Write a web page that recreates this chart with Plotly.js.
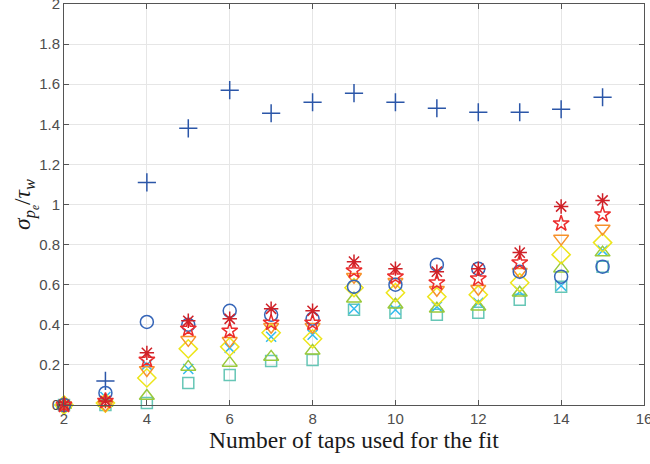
<!DOCTYPE html>
<html>
<head>
<meta charset="utf-8">
<script src="https://cdn.plot.ly/plotly-3.0.1.min.js"></script>
<style>
  html, body { margin: 0; padding: 0; background: #fff; }
  #chart { width: 650px; height: 464px; }
</style>
</head>
<body>
<div id="chart"></div>
<script>
// Number of taps used for the fit
const taps = [2, 3, 4, 5, 6, 7, 8, 9, 10, 11, 12, 13, 14, 15];

// Normalised standard deviation for each fitting case
const plusVals     = [0.00, 0.12, 1.11, 1.38, 1.57, 1.455, 1.51, 1.555, 1.51, 1.48, 1.46, 1.46, 1.475, 1.535];
const circleVals   = [0.00, 0.06, 0.414, 0.40, 0.47, 0.45, 0.43, 0.59, 0.60, 0.70, 0.68, 0.665, 0.64, 0.69];
const crossVals    = [0.00, 0.04, 0.20, 0.18, 0.285, 0.34, 0.35, 0.48, 0.475, 0.49, 0.51, 0.565, 0.595, 0.77];
const squareVals   = [0.00, 0.00, 0.01, 0.11, 0.15, 0.22, 0.225, 0.475, 0.46, 0.45, 0.46, 0.525, 0.59, 0.69];
const triUpVals    = [0.00, 0.01, 0.045, 0.19, 0.21, 0.24, 0.27, 0.53, 0.50, 0.48, 0.49, 0.56, 0.68, 0.76];
const diamondVals  = [0.00, 0.01, 0.135, 0.28, 0.29, 0.36, 0.33, 0.585, 0.56, 0.54, 0.55, 0.61, 0.75, 0.81];
const triDownVals  = [0.00, 0.00, 0.175, 0.325, 0.32, 0.39, 0.39, 0.64, 0.615, 0.575, 0.58, 0.665, 0.83, 0.88];
const starVals     = [0.00, 0.02, 0.225, 0.38, 0.37, 0.41, 0.41, 0.67, 0.64, 0.61, 0.63, 0.71, 0.905, 0.95];
const asteriskVals = [0.00, 0.02, 0.26, 0.42, 0.43, 0.48, 0.47, 0.715, 0.68, 0.665, 0.68, 0.76, 0.99, 1.02];

const xTickVals = [2, 4, 6, 8, 10, 12, 14, 16];
const yTickVals = [0, 0.2, 0.4, 0.6, 0.8, 1, 1.2, 1.4, 1.6, 1.8, 2];
const yTickText = ['0', '0.2', '0.4', '0.6', '0.8', '1', '1.2', '1.4', '1.6', '1.8', '2'];

const seriesDefs = [
  { y: plusVals,     symbol: 'cross-thin-open',    color: '#2b56a8', size: 13 },
  { y: squareVals,   symbol: 'square-open',        color: '#66c6b6', size: 11 },
  { y: crossVals,    symbol: 'x-thin-open',        color: '#33bbee', size: 10 },
  { y: triUpVals,    symbol: 'triangle-up-open',   color: '#99c93a', size: 13 },
  { y: diamondVals,  symbol: 'diamond-open',       color: '#ede51a', size: 14 },
  { y: triDownVals,  symbol: 'triangle-down-open', color: '#f7912b', size: 13 },
  { y: circleVals,   symbol: 'circle-open',        color: '#3565b8', size: 13 },
  { y: starVals,     symbol: 'star-open',          color: '#ec2c2c', size: 12 },
  { y: asteriskVals, symbol: 'asterisk-open',      color: '#cf2027', size: 12 }
];

const traces = seriesDefs.map(s => ({
  type: 'scatter',
  mode: 'markers',
  x: taps,
  y: s.y,
  cliponaxis: false,
  marker: {
    symbol: s.symbol,
    size: s.size,
    color: s.color,
    line: { color: s.color, width: 1.5 }
  },
  showlegend: false,
  hoverinfo: 'x+y'
}));

const tickFont = { family: 'Liberation Sans, Arial, sans-serif', size: 15, color: '#4d4d4d' };
const titleFont = { family: 'Liberation Serif, Times New Roman, serif', size: 23.5, color: '#1a1a1a' };

const layout = {
  width: 650,
  height: 464,
  margin: { l: 64, r: 6, t: 4, b: 59 },
  paper_bgcolor: '#ffffff',
  plot_bgcolor: '#ffffff',
  xaxis: {
    range: [2, 16],
    tickvals: xTickVals,
    ticks: 'inside',
    ticklen: 5,
    tickcolor: '#555555',
    showline: true,
    linecolor: '#555555',
    linewidth: 1,
    mirror: 'ticks',
    showgrid: true,
    gridcolor: '#e6e6e6',
    zeroline: false,
    tickfont: tickFont,
    ticklabeloverflow: 'allow',
    title: { text: 'Number of taps used for the fit', font: titleFont, standoff: 4 }
  },
  yaxis: {
    range: [0, 2],
    tickvals: yTickVals,
    ticktext: yTickText,
    ticks: 'inside',
    ticklen: 5,
    tickcolor: '#555555',
    showline: true,
    linecolor: '#555555',
    linewidth: 1,
    mirror: 'ticks',
    showgrid: true,
    gridcolor: '#e6e6e6',
    zeroline: false,
    tickfont: tickFont,
    ticklabeloverflow: 'allow',
    title: {
      text: '<i>σ</i><sub><i>p<sub>e</sub></i></sub>/<i>τ</i><sub><i>w</i></sub>',
      font: titleFont,
      standoff: 1
    }
  }
};

Plotly.newPlot('chart', traces, layout, { displayModeBar: false, staticPlot: true });
</script>
</body>
</html>
